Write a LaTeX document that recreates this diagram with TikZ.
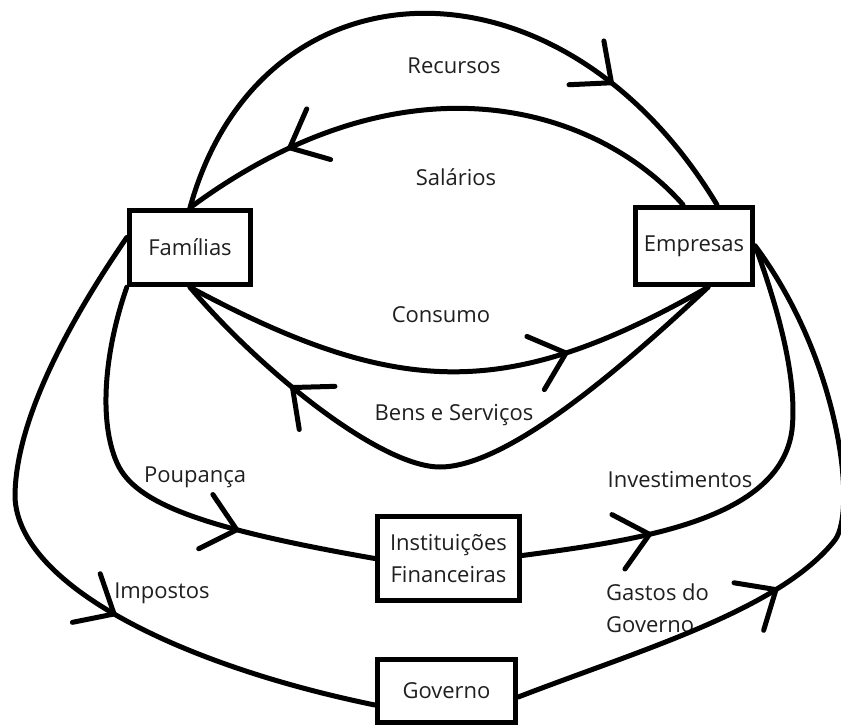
\documentclass[tikz,border=0pt]{standalone}
\usepackage{fontspec}
\setmainfont{Open Sans}
\usetikzlibrary{arrows.meta,decorations.markings}
\newcommand\lblfont{\fontsize{22}{26}\selectfont}
\colorlet{txt}{black!88}
\tikzset{
  box/.style={draw, line width=5.5pt, inner sep=0pt, font=\lblfont, text=txt, align=center},
  lbl/.style={font=\lblfont, text=txt, inner sep=0pt, text height=16pt, text depth=5pt},
  flow/.style={line width=5pt, line cap=round, line join=round},
  tipat/.style={postaction={decorate}, decoration={markings,
      mark=at position #1 with {\arrow{Straight Barb[length=32pt,width=56pt,round]}}}}
}
\begin{document}
\begin{tikzpicture}[x=1pt,y=-1pt]
\useasboundingbox (0,0) rectangle (841,727);
\clip (0,0) rectangle (841,727);
% boxes
\node[box, minimum width=121pt, minimum height=74pt] (fam) at (190,247.5) {Famílias};
\node[box, minimum width=117pt, minimum height=77pt] (emp) at (694,246) {Empresas};
\node[box, minimum width=142pt, minimum height=84pt] (inst) at (448.5,558.5) {Instituições\\[6pt]Financeiras};
\node[box, minimum width=138pt, minimum height=63pt] (gov) at (446.5,691) {Governo};
% labels
\node[lbl] (lrec) at (454,68) {Recursos};
\node[lbl] (lsal) at (456,180) {Salários};
\node[lbl] (lcon) at (441,317) {Consumo};
\node[lbl] (lbens) at (454,415) {Bens e Serviços};
\node[lbl] (lpou) at (195,477) {Poupança};
\node[lbl] (linv) at (680,482) {Investimentos};
\node[lbl] (limp) at (162,593) {Impostos};
\node[font=\lblfont, text=txt, inner sep=0pt, align=left, anchor=west] (lgas) at (606,608) {Gastos do\\[6pt]Governo};
% flows
\draw[flow, tipat=0.77] (fam.north) .. controls (260,-46) and (560,-56) .. ([xshift=23pt]emp.north);
\draw[flow, tipat=0.79] ([xshift=-11pt]emp.north) .. controls (600,110) and (410,45) .. (fam.north);
\draw[flow, tipat=0.72] (fam.south) .. controls (400,400) and (510,400) .. ([xshift=14pt]emp.south);
\draw[flow, tipat=0.78] ([xshift=14pt]emp.south) .. controls (630,360) and (510,467) .. (440,467)
   .. controls (380,467) and (260,370) .. (fam.south);
\draw[flow, tipat=0.70] (fam.south west) .. controls (105,350) and (98,420) .. (117,463)
   .. controls (135,503) and (200,528) .. (inst.west);
\draw[flow, tipat=0.26] ([yshift=3pt]inst.east) .. controls (640,540) and (780,520) .. (792,430)
   .. controls (798,375) and (775,300) .. (emp.east);
\draw[flow, tipat=0.62] ([yshift=10pt]fam.west) .. controls (70,320) and (15,420) .. (15,497)
   .. controls (18,585) and (180,665) .. ([yshift=-14pt]gov.west);
\draw[flow, tipat=0.42] ([yshift=-6pt]gov.east) .. controls (640,650) and (780,610) .. (835,540)
   .. controls (857,510) and (840,360) .. (emp.east);
\end{tikzpicture}
\end{document}
